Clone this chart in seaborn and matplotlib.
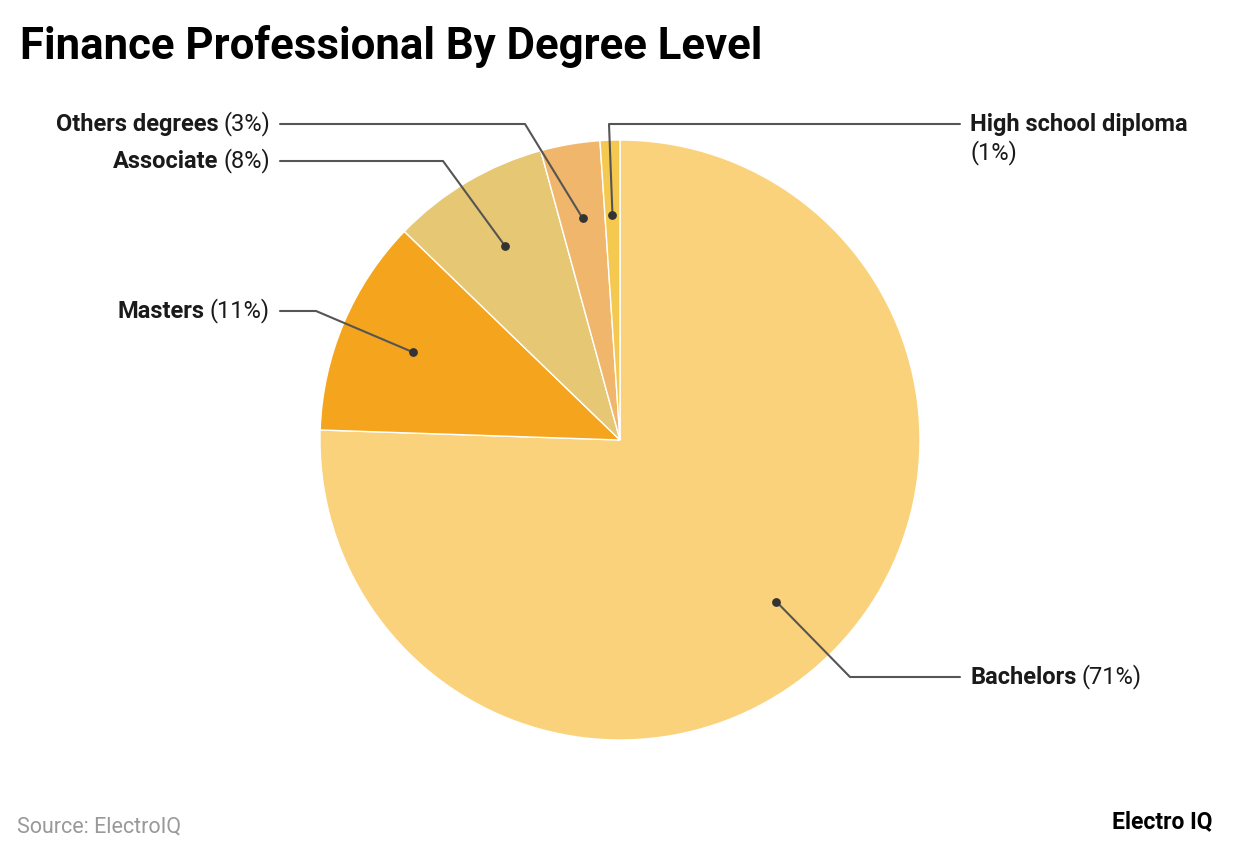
import numpy as np
import matplotlib
matplotlib.use('Agg')
import matplotlib.pyplot as plt
import seaborn as sns

# datos del grafico
categories = ['Bachelors', 'Masters', 'Associate', 'Others degrees', 'High school diploma']
shares = [71, 11, 8, 3, 1]
colors = ['#FAD27B', '#F5A41D', '#E5C774', '#F0B66B', '#F5C84F']

sns.set_theme(style="white")
plt.rcParams['font.family'] = ['Roboto', 'DejaVu Sans']

W, H = 1240, 856
fig = plt.figure(figsize=(W / 100, H / 100), dpi=100)
ax = fig.add_axes([0, 0, 1, 1])

palette = sns.color_palette(colors)
wedges, _ = ax.pie(shares, colors=palette, startangle=90, counterclock=False,
                   radius=1, wedgeprops=dict(edgecolor='white', linewidth=1))

# centro del pie en (620, 440) px, radio 300 px
cx, cy, r = 620, 440, 300
ax.set_xlim(-cx / r, (W - cx) / r)
ax.set_ylim((cy - H) / r, cy / r)
ax.set_aspect('auto')
ax.axis('off')


def px(x, y):
    return (x - cx) / r, (cy - y) / r


# codo y posicion del texto por categoria (pixeles)
layout = {
    'Bachelors': ((850, 677), (960, 677), 'right'),
    'Masters': ((316, 311), (280, 311), 'left'),
    'Associate': ((443, 161), (280, 161), 'left'),
    'Others degrees': ((525, 124), (280, 124), 'left'),
    'High school diploma': ((609, 124), (960, 124), 'right'),
}

line_c = '#555555'
renderer = fig.canvas.get_renderer()
fs = 17
for w, name, val in zip(wedges, categories, shares):
    ang = np.deg2rad((w.theta1 + w.theta2) / 2)
    dx, dy = 0.75 * np.cos(ang), 0.75 * np.sin(ang)
    (ex, ey), (hx, hy), side = layout[name]
    e = px(ex, ey)
    h = px(hx, hy)
    ax.plot([dx, e[0], h[0]], [dy, e[1], h[1]], color=line_c, lw=1.5, zorder=3)
    ax.scatter([dx], [dy], s=28, color='#333333', zorder=4)
    pct = f'({val}%)'
    if side == 'right':
        tx = (hx + 10) / W
        ty = 1 - hy / H
        t1 = fig.text(tx, ty, name, ha='left', va='center', fontsize=fs,
                      fontweight='bold', color='#1a1a1a')
        if name == 'High school diploma':
            fig.text(tx, ty - 29 / H, pct, ha='left', va='center', fontsize=fs,
                     color='#1a1a1a')
        else:
            bb = t1.get_window_extent(renderer)
            fig.text((bb.x1 + 5) / W, ty, pct, ha='left', va='center', fontsize=fs,
                     color='#1a1a1a')
    else:
        tx = (hx - 10) / W
        ty = 1 - hy / H
        t2 = fig.text(tx, ty, pct, ha='right', va='center', fontsize=fs, color='#1a1a1a')
        bb = t2.get_window_extent(renderer)
        fig.text((bb.x0 - 5) / W, ty, name, ha='right', va='center', fontsize=fs,
                 fontweight='bold', color='#1a1a1a')

fig.text(20 / W, 1 - 46 / H, 'Finance Professional By Degree Level', ha='left', va='center',
         fontsize=31.5, fontweight='bold', color='#000000')
fig.text(17 / W, 1 - 827 / H, 'Source: ElectroIQ', ha='left', va='center',
         fontsize=15.5, color='#999999')
fig.text(1213 / W, 1 - 822 / H, 'Electro IQ', ha='right', va='center',
         fontsize=16.5, fontweight='bold', color='#000000')

fig.savefig('out.png', dpi=100, facecolor='white')
